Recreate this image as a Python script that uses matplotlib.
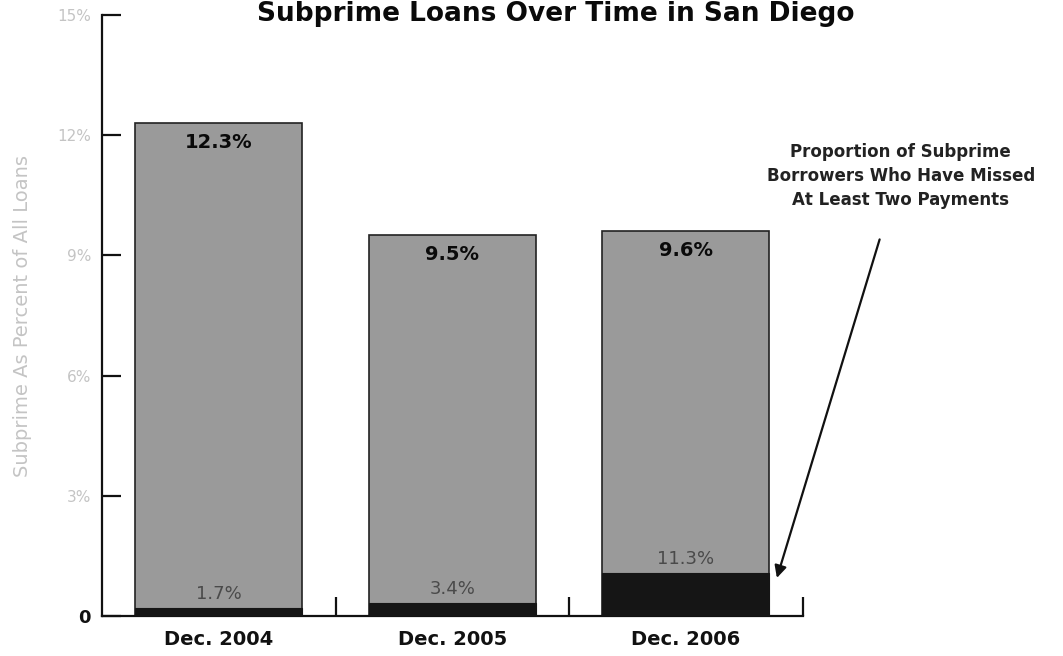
import matplotlib
matplotlib.use("Agg")
import matplotlib.pyplot as plt
import numpy as np

categories = ["Dec. 2004", "Dec. 2005", "Dec. 2006"]
subprime_share = [12.3, 9.5, 9.6]          # % of all loans
delinquent_share = [1.7, 3.4, 11.3]        # % of subprime borrowers missing 2+ payments
yticks = [0, 3, 6, 9, 12, 15]
ytick_labels = ["0", "3%", "6%", "9%", "12%", "15%"]

fig = plt.figure(figsize=(10.63, 6.56), dpi=100)
ax = fig.add_axes([0.096, 0.061, 0.659, 0.916])

x = np.arange(len(categories))
total = np.array(subprime_share)
dark = total * np.array(delinquent_share) / 100.0

ax.bar(x, total, width=0.715, color="#9a9a9a", edgecolor="#222222", linewidth=1.2, zorder=2)
ax.bar(x, dark, width=0.715, color="#151515", edgecolor="#151515", linewidth=0.8, zorder=3)

for xi, t, d, p in zip(x, total, dark, delinquent_share):
    ax.text(xi, t - 0.25, f"{t:.1f}%", ha="center", va="top", fontsize=14,
            fontweight="bold", color="#0a0a0a", zorder=4)
    ax.text(xi, d + 0.12, f"{p:.1f}%", ha="center", va="bottom", fontsize=13,
            color="#4a4a4a", zorder=4)

ax.set_xlim(-0.5, 2.5)
ax.set_ylim(0, 15)
ax.spines["top"].set_visible(False)
ax.spines["right"].set_visible(False)
for s in ("left", "bottom"):
    ax.spines[s].set_linewidth(1.6)
    ax.spines[s].set_color("#111111")

ax.set_yticks(yticks)
ax.set_yticklabels(ytick_labels)
ax.tick_params(axis="y", direction="in", length=14, width=1.6, colors="#111111",
               labelsize=11, pad=8)
for lbl in ax.get_yticklabels():
    lbl.set_color("#c4c4c4")
ylbls = ax.get_yticklabels()
ylbls[0].set_color("#111111")
ylbls[0].set_fontweight("bold")
ylbls[0].set_fontsize(13)

ax.set_xticks(x)
ax.set_xticklabels(categories, fontsize=14, fontweight="bold")
ax.tick_params(axis="x", length=0, pad=10, colors="#111111")
ax.set_xticks([0.5, 1.5, 2.5], minor=True)
ax.tick_params(axis="x", which="minor", direction="in", length=14, width=1.6, colors="#111111")

ax.set_ylabel("Subprime As Percent of All Loans", fontsize=14, color="#c4c4c4", labelpad=18)

fig.text(0.523, 1.0 - 1/656, "Subprime Loans Over Time in San Diego", ha="center",
         va="top", fontsize=19, fontweight="bold", color="#0a0a0a")

ax.text(2.92, 10.15, "Proportion of Subprime\nBorrowers Who Have Missed\nAt Least Two Payments",
        ha="center", va="bottom", fontsize=12, fontweight="bold", color="#222222",
        linespacing=1.45, clip_on=False)
ax.annotate("", xy=(2.39, 0.95), xytext=(2.83, 9.4), textcoords="data",
            annotation_clip=False,
            arrowprops=dict(arrowstyle="-|>", color="#111111", lw=1.6,
                            mutation_scale=18, shrinkA=0, shrinkB=0))

fig.savefig("out.png", dpi=100, facecolor="white")
